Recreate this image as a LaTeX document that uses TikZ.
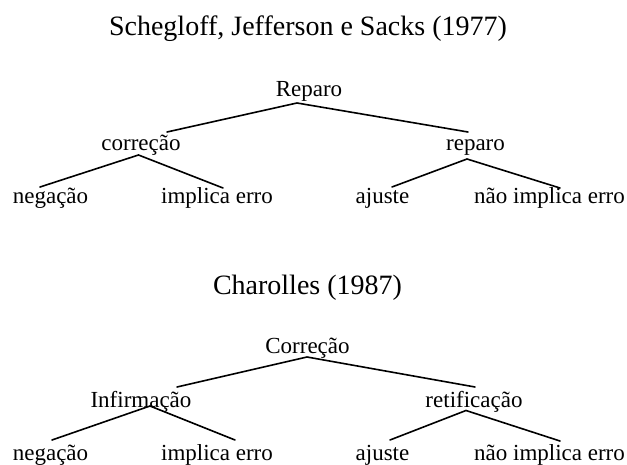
\documentclass[tikz,border=0pt]{standalone}
\usepackage{fontspec}
\setmainfont{Liberation Serif}
\usetikzlibrary{calc}
\tikzset{
  lbl/.style={anchor=base, inner sep=0pt, font=\fontsize{23}{27}\selectfont},
  ttl/.style={anchor=base, inner sep=0pt, font=\fontsize{28}{32}\selectfont},
  branch/.style={line width=1.6pt, line cap=round}
}
\begin{document}
\begin{tikzpicture}[x=1pt, y=-1pt]
\useasboundingbox (0,0) rectangle (627,465);
% --- top tree
\node[ttl] (T1) at (308,36) {Schegloff, Jefferson e Sacks (1977)};
\node[lbl] (R)   at (309,97)    {Reparo};
\node[lbl] (c1)  at (141,151)   {correção};
\node[lbl] (r1)  at (475.5,151) {reparo};
\node[lbl] (n1)  at (50.5,204)  {negação};
\node[lbl] (i1)  at (217,204)   {implica erro};
\node[lbl] (a1)  at (382.5,204) {ajuste};
\node[lbl] (ni1) at (549.5,204) {não implica erro};
\draw[branch] ($(c1.base)+(26,-19)$) -- ($(R.base)+(-12,6)$) -- ($(r1.base)+(-7.5,-19)$);
\draw[branch] ($(n1.base)+(-10.5,-17)$) -- ($(c1.base)+(-2.5,4)$) -- ($(i1.base)+(6,-16)$);
\draw[branch] ($(a1.base)+(9.5,-17)$) -- ($(r1.base)+(-8.5,8)$) -- ($(ni1.base)+(10.5,-16)$);
% --- bottom tree
\node[ttl] (T2) at (307.5,295) {Charolles (1987)};
\node[lbl] (C)   at (307.5,353) {Correção};
\node[lbl] (I)   at (141,407)   {Infirmação};
\node[lbl] (rt)  at (474,407)   {retificação};
\node[lbl] (n2)  at (50.5,460)  {negação};
\node[lbl] (i2)  at (217,460)   {implica erro};
\node[lbl] (a2)  at (382.5,460) {ajuste};
\node[lbl] (ni2) at (549.5,460) {não implica erro};
\draw[branch] ($(I.base)+(36,-20)$) -- ($(C.base)+(-0.5,4)$) -- ($(rt.base)+(1,-20)$);
\draw[branch] ($(n2.base)+(1.5,-20)$) -- ($(I.base)+(9,-1)$) -- ($(i2.base)+(18,-20)$);
\draw[branch] ($(a2.base)+(7.5,-20)$) -- ($(rt.base)+(-8,3.5)$) -- ($(ni2.base)+(10.5,-19)$);
\end{tikzpicture}
\end{document}
